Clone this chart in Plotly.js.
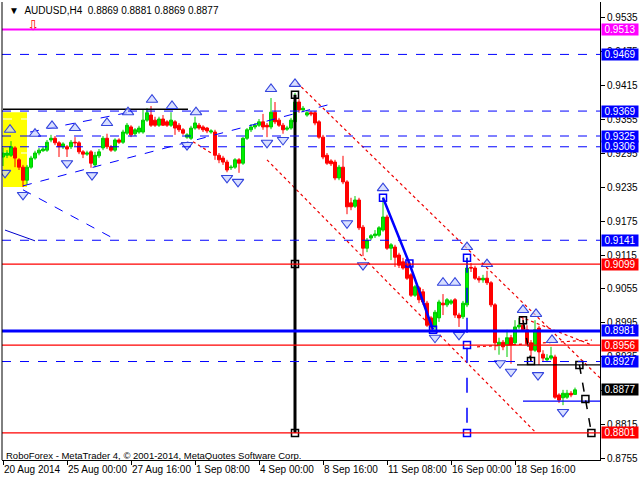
<!DOCTYPE html>
<html><head><meta charset="utf-8">
<script src="https://cdn.plot.ly/plotly-3.0.1.min.js"></script>
<style>html,body{margin:0;padding:0;background:#fff;}#chart{width:640px;height:480px;}</style>
</head><body><div id="chart"></div>
<script>
// ---- candles (AUDUSD H4), one value per bar ----
const openP = [0.9288,0.9291,0.9291,0.9304,0.9283,0.9270,0.9247,0.9270,0.9286,0.9295,0.9299,0.9300,0.9318,0.9321,0.9313,0.9306,0.9306,0.9306,0.9314,0.9313,
0.9297,0.9293,0.9297,0.9274,0.9290,0.9304,0.9321,0.9306,0.9300,0.9318,0.9314,0.9330,0.9341,0.9329,0.9332,0.9332,0.9353,0.9362,0.9353,0.9344,
0.9355,0.9350,0.9344,0.9350,0.9344,0.9336,0.9323,0.9321,0.9339,0.9344,0.9341,0.9339,0.9332,0.9332,0.9291,0.9286,0.9279,0.9269,0.9270,0.9283,
0.9277,0.9321,0.9336,0.9341,0.9344,0.9350,0.9344,0.9341,0.9367,0.9353,0.9344,0.9337,0.9339,0.9350,0.9385,0.9371,0.9362,0.9366,0.9366,0.9350,
0.9323,0.9291,0.9281,0.9279,0.9251,0.9270,0.9244,0.9207,0.9201,0.9212,0.9164,0.9127,0.9145,0.9149,0.9150,0.9159,0.9182,0.9127,0.9129,0.9115,
0.9103,0.9097,0.9080,0.9044,0.9057,0.9050,0.9030,0.9004,0.8988,0.9004,0.9030,0.9027,0.9030,0.9036,0.9009,0.9006,0.9027,0.9093,0.9092,0.9074,
0.9071,0.9074,0.9066,0.9027,0.8956,0.8961,0.8956,0.8969,0.8960,0.8988,0.8991,0.8983,0.8960,0.8947,0.8986,0.8940,0.8930,0.8933,0.8935,0.8868,
0.8863,0.8864,0.8871,0.8869];
const highP = [0.9304,0.9300,0.9316,0.9307,0.9286,0.9274,0.9274,0.9290,0.9299,0.9304,0.9306,0.9318,0.9327,0.9325,0.9316,0.9314,0.9309,0.9318,0.9323,0.9316,
0.9300,0.9299,0.9300,0.9297,0.9302,0.9325,0.9329,0.9309,0.9321,0.9321,0.9336,0.9348,0.9344,0.9339,0.9343,0.9371,0.9374,0.9378,0.9359,0.9359,
0.9362,0.9353,0.9367,0.9353,0.9348,0.9339,0.9330,0.9343,0.9359,0.9348,0.9344,0.9341,0.9337,0.9336,0.9295,0.9290,0.9283,0.9274,0.9286,0.9286,
0.9323,0.9339,0.9346,0.9348,0.9355,0.9364,0.9348,0.9392,0.9385,0.9357,0.9348,0.9343,0.9357,0.9401,0.9390,0.9378,0.9371,0.9369,0.9369,0.9353,
0.9327,0.9295,0.9284,0.9283,0.9274,0.9290,0.9247,0.9216,0.9219,0.9216,0.9168,0.9145,0.9152,0.9159,0.9166,0.9217,0.9186,0.9136,0.9133,0.9119,
0.9110,0.9103,0.9083,0.9062,0.9060,0.9055,0.9034,0.9007,0.9018,0.9036,0.9046,0.9039,0.9037,0.9039,0.9013,0.9034,0.9110,0.9101,0.9096,0.9078,
0.9080,0.9087,0.9069,0.9030,0.8969,0.8965,0.8983,0.8974,0.9000,0.9004,0.9005,0.8991,0.8965,0.9000,0.8990,0.8947,0.8940,0.8953,0.8939,0.8871,
0.8877,0.8877,0.8875,0.8881];
const lowP = [0.9272,0.9286,0.9288,0.9270,0.9265,0.9235,0.9240,0.9267,0.9283,0.9291,0.9297,0.9297,0.9314,0.9309,0.9288,0.9302,0.9288,0.9302,0.9307,0.9293,
0.9286,0.9290,0.9269,0.9270,0.9286,0.9300,0.9302,0.9297,0.9297,0.9311,0.9311,0.9327,0.9323,0.9325,0.9329,0.9329,0.9350,0.9341,0.9341,0.9341,
0.9343,0.9341,0.9341,0.9327,0.9332,0.9327,0.9320,0.9318,0.9336,0.9336,0.9332,0.9330,0.9329,0.9283,0.9277,0.9274,0.9261,0.9265,0.9267,0.9260,
0.9274,0.9318,0.9332,0.9337,0.9341,0.9336,0.9323,0.9337,0.9346,0.9341,0.9329,0.9334,0.9336,0.9346,0.9366,0.9367,0.9359,0.9360,0.9344,0.9320,
0.9284,0.9274,0.9272,0.9247,0.9247,0.9240,0.9187,0.9194,0.9198,0.9159,0.9113,0.9120,0.9141,0.9145,0.9147,0.9156,0.9124,0.9106,0.9094,0.9092,
0.9089,0.9071,0.9041,0.9041,0.9030,0.9027,0.8988,0.8981,0.8983,0.8997,0.9009,0.9023,0.9027,0.9004,0.8988,0.9002,0.9023,0.9085,0.9071,0.9066,
0.9066,0.9062,0.9023,0.8947,0.8939,0.8947,0.8935,0.8923,0.8956,0.8984,0.8979,0.8956,0.8928,0.8944,0.8921,0.8926,0.8926,0.8930,0.8861,0.8854,
0.8850,0.8861,0.8864,0.8869];
const closeP = [0.9295,0.9295,0.9306,0.9286,0.9270,0.9247,0.9270,0.9286,0.9295,0.9300,0.9302,0.9314,0.9321,0.9313,0.9306,0.9311,0.9302,0.9314,0.9313,0.9297,
0.9293,0.9295,0.9277,0.9291,0.9297,0.9321,0.9306,0.9300,0.9318,0.9314,0.9332,0.9344,0.9327,0.9336,0.9339,0.9353,0.9366,0.9344,0.9344,0.9355,
0.9344,0.9344,0.9353,0.9339,0.9336,0.9330,0.9327,0.9339,0.9348,0.9339,0.9336,0.9334,0.9334,0.9291,0.9283,0.9279,0.9265,0.9270,0.9283,0.9277,
0.9321,0.9336,0.9341,0.9344,0.9350,0.9341,0.9341,0.9367,0.9350,0.9344,0.9336,0.9339,0.9353,0.9385,0.9371,0.9374,0.9366,0.9364,0.9348,0.9323,
0.9288,0.9277,0.9276,0.9251,0.9270,0.9244,0.9200,0.9200,0.9212,0.9163,0.9127,0.9141,0.9149,0.9152,0.9163,0.9182,0.9127,0.9133,0.9111,0.9097,
0.9092,0.9074,0.9044,0.9059,0.9036,0.9032,0.8991,0.8988,0.9014,0.9032,0.9027,0.9036,0.9034,0.9009,0.9004,0.9030,0.9092,0.9092,0.9074,0.9071,
0.9074,0.9066,0.9027,0.8960,0.8961,0.8953,0.8969,0.8956,0.8988,0.8991,0.8983,0.8960,0.8947,0.8983,0.8944,0.8933,0.8933,0.8937,0.8864,0.8859,
0.8871,0.8871,0.8868,0.8877];

// ---- axes ----
const timeTickIdx = [0,16,32,48,64,80,96,112,128];
const timeTickText = ['20 Aug 2014','25 Aug 00:00','27 Aug 16:00','1 Sep 08:00','4 Sep 00:00','8 Sep 16:00','11 Sep 08:00','16 Sep 00:00','18 Sep 16:00'];
const priceTicks = [0.9535,0.9475,0.9415,0.9355,0.9295,0.9235,0.9175,0.9115,0.9055,0.8995,0.8935,0.8875,0.8815,0.8755];

// ---- horizontal levels ----
const magentaLevels = [0.9513];
const blueDashLevels = [0.9469,0.9369,0.9325,0.9306,0.9141,0.8927];
const redLevels = [0.9099,0.8956,0.8801];
const blueThickLevels = [0.8981];
const lastPrice = 0.8877;

// ---- drawn objects (bar index, price) ----
const blackVertX = [73,73,73], blackVertY = [0.9398,0.9099,0.8801];
const blueVertX = [116,116,116], blueVertY = [0.9110,0.8956,0.8801];
const blueWaveX = [95,101.6,107.5], blueWaveY = [0.9216,0.9100,0.8983];
const blackWave1X = [130,132], blackWave1Y = [0.9000,0.8928];
const blackWave2X = [144.1,145.6,147.1], blackWave2Y = [0.8921,0.8861,0.8801];
const chanUpperX = [73.5,149.25], chanUpperY = [0.9419,0.8898];
const chanLowerX = [66,133], chanLowerY = [0.9283,0.8803];
const triUpperX = [129.25,147.25], triUpperY = [0.9006,0.8956];
const triLowerX = [118.5,147.25], triLowerY = [0.8953,0.8965];
const redShortX = [47.5,52.25], redShortY = [0.9315,0.9294];
const upTrendX = [5,81.25], upTrendY = [0.9237,0.9380];
const upTrend2X = [6.75,31], upTrend2Y = [0.9332,0.9366];
const downTrendX = [5,28.75], downTrendY = [0.9230,0.9140];
const shortLineX = [0.5,8], shortLineY = [0.9159,0.9140];
const blackLevelX = [0,46.25], blackLevelY = [0.9372,0.9372];
const blackStubX = [128.5,149.25], blackStubY = [0.8921,0.8921];
const blueStubX = [130,149.25], blueStubY = [0.8857,0.8857];
const boxX = [0,6], boxY = [0.9235,0.9367];
const boxInnerLevels = [0.9355,0.9295];
const upFractX = [1.75,8,12.25,18,26,31.25,37.25,42.25,48.25,67,73,95,110,113,116,121,130,133.25,137.25];
const upFractY = [0.9336,0.9329,0.9343,0.9339,0.9348,0.9367,0.9389,0.9378,0.9367,0.9408,0.9417,0.9233,0.9066,0.9066,0.9129,0.9099,0.9018,0.9011,0.8965];
const downFractX = [0.5,5,16,22.25,46,56,58.75,66,70,86,90,108,114,124.25,127,133.75,140];
const downFractY = [0.9260,0.9221,0.9277,0.9256,0.9309,0.9251,0.9244,0.9313,0.9318,0.9171,0.9097,0.8969,0.8974,0.8924,0.8909,0.8903,0.8838];
const alertX = [7.5], alertY = [0.9519];

const FONT = 'Liberation Sans, Arial, sans-serif';
const barIndex = openP.map((_, i) => i);
const XR = [-0.25, 149.25];

function seg(x, y, color, width, dash, markers) {
  return {type:'scatter', mode: markers ? 'lines+markers' : 'lines', x:x, y:y,
    line:{color:color, width:width, dash:dash||'solid'},
    marker:{symbol:'square-open', size:7, color:color, line:{width:1.5, color:color}},
    hoverinfo:'skip', cliponaxis:true};
}

const traces = [
  seg(shortLineX, shortLineY, '#0000cc', 1, 'solid'),
  seg(downTrendX, downTrendY, '#0000ff', 1, 'dash'),
  seg(upTrendX, upTrendY, '#0000ff', 1, 'dash'),
  seg(upTrend2X, upTrend2Y, '#0000ff', 1, 'dash'),
  seg(blackLevelX, blackLevelY, '#000000', 1.5, 'solid'),
  seg(chanUpperX, chanUpperY, '#ee0000', 1.2, 'dot'),
  seg(chanLowerX, chanLowerY, '#ee0000', 1.2, 'dot'),
  seg(triUpperX, triUpperY, '#ee0000', 1.2, 'dot'),
  seg(triLowerX, triLowerY, '#ee0000', 1.2, 'dot'),
  seg(redShortX, redShortY, '#ee0000', 1.2, 'dot'),
  seg(blackStubX, blackStubY, '#000000', 1.2, 'solid'),
  seg(blueStubX, blueStubY, '#0000ff', 1.2, 'solid'),
  {type:'candlestick', x:barIndex, open:openP, high:highP, low:lowP, close:closeP,
   increasing:{line:{color:'#00cc00', width:1}, fillcolor:'#00ee00'},
   decreasing:{line:{color:'#ff0000', width:1}, fillcolor:'#ff0000'},
   whiskerwidth:0, hoverinfo:'skip'},
  seg(blackVertX, blackVertY, '#000000', 3, 'solid', true),
  seg(blueVertX, blueVertY, '#0000ff', 1.5, 'longdash', true),
  seg(blueWaveX, blueWaveY, '#0000ff', 2.5, 'solid', true),
  seg(blackWave1X, blackWave1Y, '#000000', 1.5, 'dash', true),
  seg(blackWave2X, blackWave2Y, '#000000', 1.5, 'dash', true),
  {type:'scatter', mode:'markers', x:upFractX, y:upFractY, hoverinfo:'skip',
   marker:{symbol:'triangle-up', size:10, color:'rgba(200,210,255,0.7)', line:{color:'#3344dd', width:1.1}}},
  {type:'scatter', mode:'markers', x:downFractX, y:downFractY, hoverinfo:'skip',
   marker:{symbol:'triangle-down', size:10, color:'rgba(200,210,255,0.7)', line:{color:'#3344dd', width:1.1}}},
  {type:'scatter', mode:'text', x:alertX, y:alertY, text:['\u21e9'], hoverinfo:'skip',
   textfont:{family:'DejaVu Sans', size:14, color:'#ff0000'}}
];

const shapes = [];
shapes.push({type:'rect', xref:'x', yref:'y', x0:boxX[0], x1:boxX[1], y0:boxY[0], y1:boxY[1],
  fillcolor:'#ffff00', line:{width:0}, layer:'below'});
boxInnerLevels.forEach(v => shapes.push({type:'line', xref:'x', yref:'y', x0:boxX[0], x1:boxX[1], y0:v, y1:v,
  line:{color:'#ffffff', width:1, dash:'dash'}, layer:'below'}));
function hline(v, color, width, dash) {
  shapes.push({type:'line', xref:'paper', yref:'y', x0:0, x1:1, y0:v, y1:v, line:{color:color, width:width, dash:dash}});
}
magentaLevels.forEach(v => hline(v, '#ff00ff', 2, 'solid'));
blueDashLevels.forEach(v => hline(v, '#0000ff', 1, 'dash'));
redLevels.forEach(v => hline(v, '#ff0000', 1.2, 'solid'));
blueThickLevels.forEach(v => hline(v, '#0000ff', 3, 'solid'));
shapes.push({type:'line', xref:'paper', yref:'paper', x0:0, x1:0, y0:0, y1:1, line:{color:'#000', width:1}});

const annotations = [];
function tag(v, bg) {
  annotations.push({xref:'paper', yref:'y', x:1, y:v, xanchor:'left', yanchor:'middle', xshift:1,
    text:v.toFixed(4), showarrow:false, bgcolor:bg, borderpad:0, width:36, height:11,
    font:{family:FONT, size:10, color:'#ffffff'}});
}
magentaLevels.forEach(v => tag(v, '#ff00ff'));
blueDashLevels.forEach(v => tag(v, '#0000ff'));
redLevels.forEach(v => tag(v, '#ff0000'));
blueThickLevels.forEach(v => tag(v, '#0000ff'));
tag(lastPrice, '#000000');

const n = openP.length - 1;
const NB = '\u00a0';
annotations.push({xref:'paper', yref:'paper', x:0.0085, y:0.981, xanchor:'left', yanchor:'middle', showarrow:false,
  text:'\u25bc' + NB + NB + 'AUDUSD,H4' + NB + NB + [openP[n], highP[n], lowP[n], closeP[n]].map(v => v.toFixed(4)).join(NB),
  font:{family:FONT, size:10, color:'#000'}});
annotations.push({xref:'paper', yref:'paper', x:0.0035, y:0.0098, xanchor:'left', yanchor:'middle', showarrow:false,
  text:'RoboForex - MetaTrader 4, \u00a9 2001-2014, MetaQuotes Software Corp.',
  font:{family:FONT, size:9.5, color:'#000'}});

const layout = {
  width:640, height:480,
  margin:{l:2, r:40, t:2, b:20, pad:0},
  paper_bgcolor:'#ffffff', plot_bgcolor:'#ffffff',
  showlegend:false,
  boxgap:0, boxgroupgap:0.25,
  xaxis:{range:XR, tickvals:timeTickIdx, ticktext:timeTickText, ticks:'outside', ticklen:4, tickcolor:'#000',
    showline:true, linecolor:'#000', linewidth:1, showgrid:false, zeroline:false, tickangle:0,
    ticklabelposition:'outside right', ticklabeloverflow:'allow', tickfont:{family:FONT, size:10, color:'#000'},
    rangeslider:{visible:false}, fixedrange:true, automargin:false},
  yaxis:{side:'right', range:[0.87532,0.95615], tickvals:priceTicks, ticktext:priceTicks.map(v => v.toFixed(4)),
    ticks:'outside', ticklen:4, tickcolor:'#000', showline:true, linecolor:'#000', linewidth:1,
    showgrid:false, zeroline:false, tickfont:{family:FONT, size:10, color:'#000'}, fixedrange:true, automargin:false},
  shapes:shapes, annotations:annotations
};
Plotly.newPlot('chart', traces, layout, {staticPlot:true, displayModeBar:false});
</script></body></html>
